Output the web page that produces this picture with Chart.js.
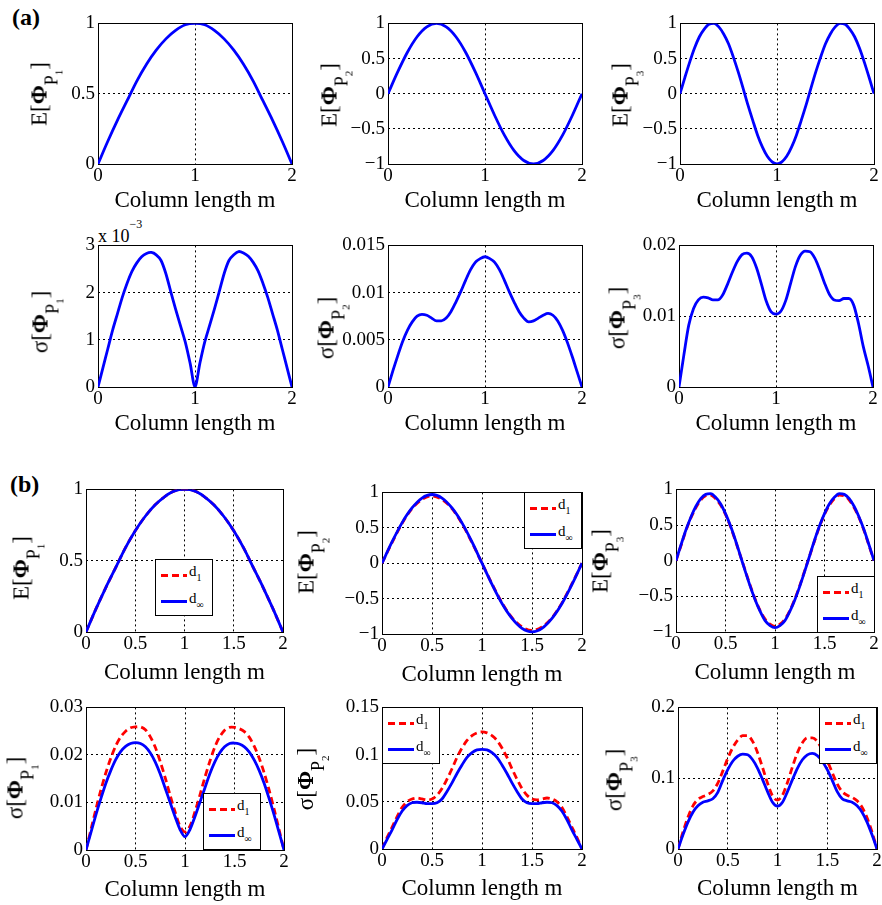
<!DOCTYPE html>
<html>
<head>
<meta charset="utf-8">
<script src="https://cdn.jsdelivr.net/npm/chart.js@4.4.0/dist/chart.umd.min.js"></script>
<style>
  body { margin: 0; background: #fff; width: 882px; height: 905px; position: relative; overflow: hidden;
         font-family: 'Liberation Serif', 'Times New Roman', serif; color: #000; }
  canvas { position: absolute; }
  .tag { position: absolute; font-weight: bold; font-size: 24px; line-height: 1; }
  .ylab { position: absolute; font-size: 23px; line-height: 1; white-space: nowrap;
          transform: translate(-50%, -50%) rotate(-90deg); }
  .ylab b { font-weight: bold; }
  .ylab .s1 { position: relative; top: 0.62em; font-size: 0.78em; }
  .ylab .s2 { position: relative; top: 0.45em; font-size: 0.62em; }
  .mult { position: absolute; font-size: 18px; line-height: 1; white-space: nowrap; }
  .mult .e { position: relative; top: -14px; font-size: 12px; }
  .legend { position: absolute; background: #fff; border: 1px solid #000; box-sizing: border-box;
            width: 58px; height: 57px; font-size: 15px; color: #000; }
  .legend .ln { position: absolute; left: 5px; width: 26px; height: 3px; }
  .legend .dash { background: repeating-linear-gradient(90deg, #f00 0 7px, transparent 7px 11px); }
  .legend .solid { background: #00f; }
  .legend .txt { position: absolute; left: 33px; line-height: 1; }
  .legend .txt span { position: relative; top: 5px; font-size: 10px; }
</style>
</head>
<body>
<div class="tag" style="left:12px; top:5px;">(a)</div>
<div class="tag" style="left:10px; top:472px;">(b)</div>
<div class="mult" style="left:98px; top:227px;">x 10<span class="e">−3</span></div>
<script>
// sample positions along the column (m)
const x21 = [0,0.1,0.2,0.3,0.4,0.5,0.6,0.7,0.8,0.9,1,1.1,1.2,1.3,1.4,1.5,1.6,1.7,1.8,1.9,2];
const x41 = [0,0.05,0.1,0.15,0.2,0.25,0.3,0.35,0.4,0.45,0.5,0.55,0.6,0.65,0.7,0.75,0.8,0.85,0.9,0.95,1,
             1.05,1.1,1.15,1.2,1.25,1.3,1.35,1.4,1.45,1.5,1.55,1.6,1.65,1.7,1.75,1.8,1.85,1.9,1.95,2];

const xTicksA = [0, 1, 2];
const xTicksB = [0, 0.5, 1, 1.5, 2];

// (a) mean and std of the first three mode shapes
const meanA1 = [0,0.16,0.31,0.45,0.59,0.71,0.81,0.89,0.95,0.99,1,0.99,0.95,0.89,0.81,0.71,0.59,0.45,0.31,0.16,0];
const meanA2 = [0,0.31,0.59,0.81,0.95,1,0.95,0.81,0.59,0.31,0,-0.31,-0.59,-0.81,-0.95,-1,-0.95,-0.81,-0.59,-0.31,0];
const meanA3 = [0,0.23,0.45,0.65,0.81,0.92,0.99,1,0.95,0.85,0.71,0.52,0.31,0.08,-0.16,-0.38,-0.59,-0.76,-0.89,-0.97,-1,
                -0.97,-0.89,-0.76,-0.59,-0.38,-0.16,0.08,0.31,0.52,0.71,0.85,0.95,1,0.99,0.92,0.81,0.65,0.45,0.23,0];
// in units of 1e-3
const sigmaA1e3 = [0,0.4,0.8,1.2,1.55,1.9,2.2,2.45,2.63,2.76,2.83,2.85,2.8,2.68,2.4,2.02,1.65,1.3,0.95,0.5,0,
                   0.5,0.95,1.3,1.65,2.02,2.4,2.68,2.8,2.87,2.84,2.77,2.64,2.46,2.2,1.9,1.55,1.2,0.8,0.4,0];
const sigmaA2 = [0,0.0017,0.0033,0.0048,0.006,0.0069,0.0075,0.0077,0.0076,0.0073,0.007,0.007,0.0073,0.008,0.009,0.0101,0.0113,0.0124,0.0132,0.0136,0.0138,
                 0.0136,0.0132,0.0124,0.0113,0.0101,0.009,0.008,0.0073,0.0069,0.007,0.0073,0.0076,0.0078,0.0076,0.007,0.006,0.0047,0.0032,0.0016,0];
const sigmaA3 = [0,0.0045,0.0087,0.0111,0.0123,0.0127,0.0126,0.0123,0.0123,0.013,0.0145,0.0162,0.0177,0.0187,0.0189,0.0184,0.0168,0.0145,0.0121,0.0106,0.0103,
                 0.0107,0.0122,0.0146,0.017,0.0186,0.0192,0.0191,0.0182,0.0166,0.0147,0.0131,0.0123,0.0122,0.0125,0.0125,0.0116,0.009,0.0057,0.003,0];

// (b) correlation lengths d1 and d-infinity
const meanB1_d1   = [0,0.16,0.31,0.45,0.59,0.71,0.81,0.89,0.95,0.99,1,0.99,0.95,0.89,0.81,0.71,0.59,0.45,0.31,0.16,0];
const meanB1_dInf = [0,0.16,0.31,0.45,0.59,0.71,0.81,0.89,0.95,0.99,1,0.99,0.95,0.89,0.81,0.71,0.59,0.45,0.31,0.16,0];
const meanB2_d1   = [0,0.29,0.56,0.77,0.9,0.95,0.9,0.77,0.56,0.29,0,-0.29,-0.56,-0.77,-0.9,-0.95,-0.9,-0.77,-0.56,-0.29,0];
const meanB2_dInf = [0,0.3,0.57,0.78,0.92,0.97,0.92,0.78,0.57,0.3,0,-0.3,-0.57,-0.78,-0.92,-0.97,-0.92,-0.78,-0.57,-0.3,0];
const meanB3_d1   = [0,0.21,0.42,0.6,0.74,0.85,0.91,0.92,0.87,0.78,0.65,0.48,0.28,0.07,-0.14,-0.35,-0.54,-0.7,-0.82,-0.89,-0.92,
                     -0.89,-0.82,-0.7,-0.54,-0.35,-0.14,0.07,0.28,0.48,0.65,0.78,0.87,0.92,0.91,0.85,0.74,0.6,0.42,0.21,0];
const meanB3_dInf = [0,0.22,0.43,0.61,0.76,0.87,0.93,0.94,0.89,0.8,0.66,0.49,0.29,0.07,-0.15,-0.36,-0.55,-0.71,-0.84,-0.91,-0.94,
                     -0.91,-0.84,-0.71,-0.55,-0.36,-0.15,0.07,0.29,0.49,0.66,0.8,0.89,0.94,0.93,0.87,0.76,0.61,0.43,0.22,0];

const sigmaB1_d1   = [0,0.0043,0.0086,0.0126,0.0162,0.0193,0.0219,0.0238,0.025,0.0257,0.0259,0.0259,0.0253,0.0238,0.0216,0.0186,0.0152,0.0115,0.008,0.005,0.0038,
                      0.005,0.008,0.0115,0.0152,0.0186,0.0216,0.0238,0.0252,0.0258,0.0258,0.0255,0.0249,0.0237,0.0218,0.0193,0.0162,0.0126,0.0086,0.0043,0];
const sigmaB1_dInf = [0,0.0037,0.0074,0.0108,0.014,0.0167,0.019,0.0207,0.0218,0.0224,0.0226,0.0224,0.0217,0.0204,0.0185,0.016,0.013,0.01,0.007,0.0043,0.0028,
                      0.0043,0.007,0.01,0.013,0.016,0.0185,0.0204,0.0217,0.0224,0.0225,0.0223,0.0217,0.0206,0.0189,0.0167,0.014,0.0108,0.0074,0.0037,0];
const sigmaB2_d1   = [0,0.012,0.023,0.034,0.044,0.05,0.053,0.054,0.053,0.052,0.053,0.057,0.064,0.074,0.085,0.097,0.107,0.115,0.12,0.123,0.124,
                      0.123,0.12,0.115,0.107,0.097,0.085,0.074,0.064,0.057,0.053,0.052,0.053,0.054,0.053,0.05,0.044,0.034,0.023,0.012,0];
const sigmaB2_dInf = [0,0.01,0.02,0.031,0.04,0.046,0.049,0.0495,0.049,0.048,0.048,0.049,0.053,0.061,0.07,0.08,0.089,0.097,0.102,0.105,0.1055,
                      0.105,0.102,0.097,0.089,0.08,0.07,0.061,0.053,0.049,0.048,0.048,0.049,0.0495,0.049,0.046,0.04,0.031,0.02,0.01,0];
const sigmaB3_d1   = [0,0.024,0.045,0.061,0.07,0.074,0.077,0.082,0.093,0.11,0.128,0.143,0.154,0.16,0.16,0.152,0.136,0.115,0.093,0.075,0.069,
                      0.076,0.094,0.116,0.136,0.15,0.157,0.157,0.152,0.14,0.125,0.108,0.092,0.081,0.076,0.073,0.068,0.059,0.044,0.024,0];
const sigmaB3_dInf = [0,0.02,0.038,0.052,0.061,0.066,0.068,0.071,0.08,0.097,0.112,0.124,0.131,0.134,0.133,0.126,0.114,0.098,0.081,0.066,0.0605,
                      0.066,0.081,0.098,0.114,0.126,0.133,0.135,0.132,0.124,0.112,0.097,0.081,0.071,0.068,0.066,0.061,0.052,0.038,0.02,0];

// y tick values per panel
const yTicksMeanA1 = [0, 0.5, 1];
const yTicksMean23 = [-1, -0.5, 0, 0.5, 1];
const yTicksSigA1  = [0, 1, 2, 3];
const yTicksSigA2  = [0, 0.005, 0.01, 0.015];
const yTicksSigA3  = [0, 0.01, 0.02];
const yTicksSigB1  = [0, 0.01, 0.02, 0.03];
const yTicksSigB2  = [0, 0.05, 0.1, 0.15];
const yTicksSigB3  = [0, 0.1, 0.2];

const legendLabels = ['d<span>1</span>', 'd<span>∞</span>'];

Chart.defaults.font.family = "'Liberation Serif', 'Times New Roman', serif";
Chart.defaults.color = '#000';

const YW = 55, PT = 14, PR = 12;

const fmt = v => String(+(+v).toFixed(5)).replace('-', '\u2212');

function lab(sym, n) {
  return sym + '[<b>Φ</b><span class="s1">P<span class="s2">' + n + '</span></span>]';
}

function pts(xs, ys) { return xs.map((x, i) => ({ x: x, y: ys[i] })); }

// curves with a kink at mid-length use plain bezier smoothing instead of monotone
const kink = { cubicInterpolationMode: 'default', tension: 0.3 };

const blue = (xs, ys, extra) => Object.assign({ data: pts(xs, ys), borderColor: '#0000ff', borderWidth: 2.8, order: 1 }, extra);
const red  = (xs, ys, extra) => Object.assign({ data: pts(xs, ys), borderColor: '#ff0000', borderWidth: 2.8, borderDash: [7, 4], order: 2 }, extra);

const panels = [
  { x: 98,  y: 23,  w: 194, h: 141, xh: 56, tc: 36.5, xt: xTicksA, yt: yTicksMeanA1, ds: [blue(x21, meanA1)], yl: lab('E', 1), lx: 39,  ly: 94 },
  { x: 388, y: 23,  w: 194, h: 141, xh: 56, tc: 36.5, xt: xTicksA, yt: yTicksMean23, ds: [blue(x21, meanA2)], yl: lab('E', 2), lx: 329, ly: 95 },
  { x: 680, y: 23,  w: 194, h: 141, xh: 56, tc: 36.5, xt: xTicksA, yt: yTicksMean23, ds: [blue(x41, meanA3)], yl: lab('E', 3), lx: 620, ly: 95 },
  { x: 98,  y: 245, w: 194, h: 142, xh: 56, tc: 36.5, xt: xTicksA, yt: yTicksSigA1,  ds: [blue(x41, sigmaA1e3, kink)], yl: lab('σ', 1), lx: 40,  ly: 322 },
  { x: 388, y: 245, w: 194, h: 142, xh: 56, tc: 36.5, xt: xTicksA, yt: yTicksSigA2,  ds: [blue(x41, sigmaA2)], yl: lab('σ', 2), lx: 326, ly: 328 },
  { x: 679, y: 245, w: 194, h: 142, xh: 56, tc: 36.5, xt: xTicksA, yt: yTicksSigA3,  ds: [blue(x41, sigmaA3)], yl: lab('σ', 3), lx: 617, ly: 318 },
  { x: 86,  y: 489, w: 197, h: 143, xh: 60, tc: 41, xt: xTicksB, yt: yTicksMeanA1, ds: [red(x21, meanB1_d1), blue(x21, meanB1_dInf)], yl: lab('E', 1), lx: 21,  ly: 568, lg: [155, 559] },
  { x: 382, y: 492, w: 200, h: 142, xh: 60, tc: 41, xt: xTicksB, yt: yTicksMean23, ds: [red(x21, meanB2_d1), blue(x21, meanB2_dInf)], yl: lab('E', 2), lx: 306, ly: 562, lg: [524, 492] },
  { x: 676, y: 489, w: 198, h: 143, xh: 60, tc: 41, xt: xTicksB, yt: yTicksMean23, ds: [red(x41, meanB3_d1), blue(x41, meanB3_dInf)], yl: lab('E', 3), lx: 600, ly: 561, lg: [817, 576] },
  { x: 86,  y: 707, w: 198, h: 143, xh: 60, tc: 40, xt: xTicksB, yt: yTicksSigB1,  ds: [red(x41, sigmaB1_d1, kink), blue(x41, sigmaB1_dInf, kink)], yl: lab('σ', 1), lx: 15,  ly: 788, lg: [203, 793] },
  { x: 382, y: 707, w: 200, h: 142, xh: 60, tc: 40, xt: xTicksB, yt: yTicksSigB2,  ds: [red(x41, sigmaB2_d1), blue(x41, sigmaB2_dInf)], yl: lab('σ', 2), lx: 305, ly: 779, lg: [382, 707] },
  { x: 678, y: 707, w: 199, h: 142, xh: 60, tc: 40, xt: xTicksB, yt: yTicksSigB3,  ds: [red(x41, sigmaB3_d1), blue(x41, sigmaB3_dInf)], yl: lab('σ', 3), lx: 614, ly: 780, lg: [819, 707] }
];

// solid frame around the plotting area
const framePlugin = {
  id: 'frame',
  beforeDatasetsDraw(chart) {
    const a = chart.chartArea, ctx = chart.ctx;
    ctx.save();
    ctx.strokeStyle = '#000';
    ctx.lineWidth = 1;
    ctx.strokeRect(Math.round(a.left) + 0.5, Math.round(a.top) + 0.5,
                   Math.round(a.right) - Math.round(a.left), Math.round(a.bottom) - Math.round(a.top));
    ctx.restore();
  }
};

function axisFromTicks(t) {
  return { min: t[0], max: t[t.length - 1], step: t[1] - t[0] };
}

panels.forEach(p => {
  const cv = document.createElement('canvas');
  const W = YW + p.w + PR, H = PT + p.h + p.xh;
  cv.width = W; cv.height = H;
  cv.style.width = W + 'px'; cv.style.height = H + 'px';
  cv.style.left = (p.x - YW) + 'px';
  cv.style.top = (p.y - PT) + 'px';
  document.body.appendChild(cv);

  const xa = axisFromTicks(p.xt), ya = axisFromTicks(p.yt);
  const gridOpts = { color: '#000', lineWidth: 1, drawTicks: false };

  new Chart(cv, {
    type: 'line',
    data: { datasets: p.ds.map(d => Object.assign({ fill: false, pointRadius: 0, cubicInterpolationMode: 'monotone' }, d)) },
    options: {
      responsive: false,
      animation: false,
      devicePixelRatio: 1,
      events: [],
      layout: { padding: { top: PT, right: PR, left: 0, bottom: 0 } },
      plugins: { legend: { display: false }, tooltip: { enabled: false } },
      scales: {
        x: {
          type: 'linear', min: xa.min, max: xa.max,
          ticks: { stepSize: xa.step, callback: fmt, font: { size: 19 }, padding: 1, maxRotation: 0, autoSkip: false },
          grid: gridOpts,
          border: { display: false, dash: [2, 3] },
          title: { display: true, text: 'Column length m', font: { size: 23 },
                   padding: { top: 0, bottom: p.xh - p.tc - 13.8 } },
          afterFit(s) { s.height = p.xh; }
        },
        y: {
          type: 'linear', min: ya.min, max: ya.max,
          ticks: { stepSize: ya.step, callback: fmt, font: { size: 19 }, padding: 3, autoSkip: false },
          grid: gridOpts,
          border: { display: false, dash: [2, 3] },
          afterFit(s) { s.width = YW; }
        }
      }
    },
    plugins: [framePlugin]
  });

  const yl = document.createElement('div');
  yl.className = 'ylab';
  yl.innerHTML = p.yl;
  yl.style.left = p.lx + 'px';
  yl.style.top = p.ly + 'px';
  document.body.appendChild(yl);

  if (p.lg) {
    const lg = document.createElement('div');
    lg.className = 'legend';
    lg.style.left = p.lg[0] + 'px';
    lg.style.top = p.lg[1] + 'px';
    lg.innerHTML =
      '<div class="ln dash" style="top:14px"></div><div class="txt" style="top:4px">' + legendLabels[0] + '</div>' +
      '<div class="ln solid" style="top:40px"></div><div class="txt" style="top:31px">' + legendLabels[1] + '</div>';
    document.body.appendChild(lg);
  }
});
</script>
</body>
</html>
